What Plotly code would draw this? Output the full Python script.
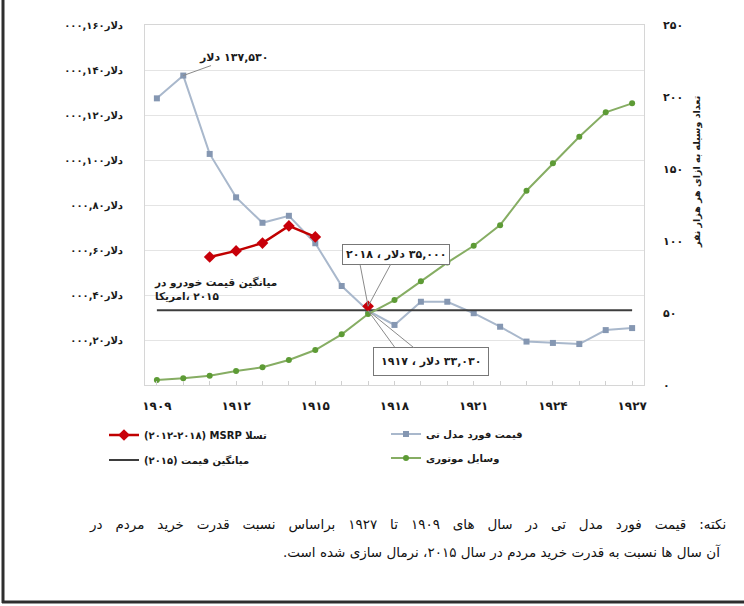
import plotly.graph_objects as go

# ---------------- data ----------------
years = list(range(1909, 1928))
ford_price = [127400, 137530, 102700, 83400, 72100, 75200, 63000, 44000, 33030, 26700,
              37000, 37000, 31900, 25900, 19300, 18700, 18200, 24400, 25300]
tesla_years = [1911, 1912, 1913, 1914, 1915, 1916, 1917]
tesla_price = [56900, 59600, 63100, 70700, 65800, None, 35000]
avg_years = [1909, 1927]
avg_price_2015 = [33200, 33200]
vehicles_per_1000 = [3.5, 4.7, 6.5, 9.7, 12.3, 17.4, 24.3, 35.2, 49.3, 59.0,
                     72.0, 85.0, 96.7, 111.0, 134.9, 154.0, 172.4, 189.4, 195.6]

LRM = "\u200e"
RLM = "\u200f"

x_tick_years = years
x_tick_text = ["۱۹۰۹", "", "", "۱۹۱۲", "", "", "۱۹۱۵", "", "", "۱۹۱۸", "", "",
               "۱۹۲۱", "", "", "۱۹۲۴", "", "", "۱۹۲۷"]
left_tick_vals = [20000, 40000, 60000, 80000, 100000, 120000, 140000, 160000]
left_tick_text = [LRM + t for t in ["۰۰۰,۲۰دلار", "۰۰۰,۴۰دلار", "۰۰۰,۶۰دلار", "۰۰۰,۸۰دلار",
                                    "۰۰۰,۱۰۰دلار", "۰۰۰,۱۲۰دلار", "۰۰۰,۱۴۰دلار", "۰۰۰,۱۶۰دلار"]]
right_tick_vals = [0, 50, 100, 150, 200, 250]
right_tick_text = ["۰", "۵۰", "۱۰۰", "۱۵۰", "۲۰۰", "۲۵۰"]

note_line1 = "نکته: قیمت فورد مدل تی در سال های ۱۹۰۹ تا ۱۹۲۷ براساس نسبت قدرت خرید مردم در"
note_line2 = "آن سال ها نسبت به قدرت خرید مردم در سال ۲۰۱۵، نرمال سازی شده است."

# ---------------- layout geometry ----------------
W, H = 744, 606
ML, MR, MT, MB = 145, 100, 25, 221
PW, PH = W - ML - MR, H - MT - MB


def px_x(px):
    return (px - ML) / PW


def px_y(py):
    return (H - MB - py) / PH


FONT = "DejaVu Sans"
BOLD = dict(family=FONT, weight="bold", color="#1a1a1a")

fig = go.Figure()

fig.add_trace(go.Scatter(
    x=years, y=ford_price, mode="lines+markers", name="قیمت فورد مدل تی",
    line=dict(color="#a9b8cc", width=2),
    marker=dict(symbol="square", size=6, color="#8597b2"),
    legend="legend2"))

fig.add_trace(go.Scatter(
    x=avg_years, y=avg_price_2015, mode="lines", name=LRM + "(۲۰۱۵) میانگین قیمت",
    line=dict(color="#3d3d3d", width=2), legend="legend3"))

fig.add_trace(go.Scatter(
    x=years, y=vehicles_per_1000, mode="lines+markers", name="وسایل موتوری",
    line=dict(color="#86ad63", width=2),
    marker=dict(symbol="circle", size=6, color="#5d9b35"),
    yaxis="y2", legend="legend4"))

fig.add_trace(go.Scatter(
    x=tesla_years, y=tesla_price, mode="lines+markers",
    name=LRM + "(۲۰۱۲-۲۰۱۸) MSRP تسلا",
    line=dict(color="#c00000", width=2.5),
    marker=dict(symbol="diamond", size=9, color="#c8000a"),
    connectgaps=False, legend="legend"))

leg_common = dict(font=dict(size=10, **BOLD), bgcolor="rgba(0,0,0,0)",
                  xanchor="left", yanchor="middle")

# justified first line of the note (extra non-breaking spaces between words)
note_line1_just = note_line1.replace(" ", " \u00a0\u00a0")

annotations = [
    dict(x=1910, y=137530, xref="x", yref="y", text=LRM + "دلار" + LRM + " ۱۳۷,۵۳۰",
         showarrow=True, arrowhead=0, arrowwidth=1, arrowcolor="#8a8a8a",
         ax=50, ay=-18, font=dict(size=11, **BOLD)),
    dict(x=1917, y=35000, xref="x", yref="y",
         text=LRM + "۲۰۱۸ ، دلار" + LRM + " ۳۵,۰۰۰",
         showarrow=True, arrowhead=0, arrowwidth=1, arrowcolor="#8a8a8a",
         ax=28, ay=-52, font=dict(size=11, **BOLD), bgcolor="white",
         bordercolor="#777777", borderwidth=1, borderpad=3),
    dict(x=1917, y=33030, xref="x", yref="y",
         text=LRM + "۱۹۱۷ ، دلار" + LRM + " ۳۳,۰۳۰",
         showarrow=True, arrowhead=0, arrowwidth=1, arrowcolor="#8a8a8a",
         ax=63, ay=51, font=dict(size=11, **BOLD), bgcolor="white",
         bordercolor="#777777", borderwidth=1, borderpad=7),
    dict(x=px_x(152), y=px_y(289), xref="paper", yref="paper",
         text="میانگین قیمت خودرو در<br>" + LRM + "امریکا،" + LRM + " ۲۰۱۵",
         showarrow=False, xanchor="left", yanchor="middle", align="left",
         font=dict(size=10.5, **BOLD)),
    dict(x=px_x(705), y=px_y(172), xref="paper", yref="paper",
         text="تعداد وسیله به ازای هر هزار نفر", showarrow=False, textangle=-90,
         font=dict(size=9.5, **BOLD)),
    dict(x=px_x(728), y=px_y(524), xref="paper", yref="paper",
         text=note_line1_just,
         showarrow=False, xanchor="right", yanchor="middle",
         font=dict(family=FONT, size=13.5, color="#111111")),
    dict(x=px_x(723), y=px_y(552), xref="paper", yref="paper",
         text=note_line2 + RLM,
         showarrow=False, xanchor="right", yanchor="middle",
         font=dict(family=FONT, size=13.5, color="#111111")),
]

shapes = [
    # extra leader lines
    dict(type="line", xref="x", yref="y", x0=1917, y0=35000, x1=1916.7, y1=53300,
         line=dict(color="#8a8a8a", width=1)),
    dict(type="line", xref="x", yref="y", x0=1917, y0=33030, x1=1918.0, y1=16900,
         line=dict(color="#8a8a8a", width=1)),
    # outer frame (left and bottom)
    dict(type="line", xref="paper", yref="paper", x0=px_x(3), x1=px_x(3),
         y0=px_y(603), y1=px_y(0), line=dict(color="#2e2e2e", width=3)),
    dict(type="line", xref="paper", yref="paper", x0=px_x(2), x1=px_x(744),
         y0=px_y(602), y1=px_y(602), line=dict(color="#2e2e2e", width=3)),
]

fig.update_layout(
    width=W, height=H, autosize=False,
    margin=dict(l=ML, r=MR, t=MT, b=MB),
    paper_bgcolor="white", plot_bgcolor="white",
    font=dict(family=FONT),
    showlegend=True,
    xaxis=dict(range=[1908.55, 1927.45], tickvals=x_tick_years, ticktext=x_tick_text,
               ticks="inside", ticklen=4, tickcolor="#d0d0d0", showgrid=False,
               showline=True, linecolor="#d6d6d6", mirror=True, zeroline=False,
               tickfont=dict(size=12, **BOLD), ticklabelstandoff=10),
    yaxis=dict(range=[0, 160000], tickvals=left_tick_vals, ticktext=left_tick_text,
               showgrid=True, gridcolor="#e4e4e4", gridwidth=1, zeroline=False,
               showline=True, linecolor="#d6d6d6", mirror=True, ticks="",
               tickfont=dict(size=10, **BOLD), ticklabelstandoff=19),
    yaxis2=dict(range=[0, 250], tickvals=right_tick_vals, ticktext=right_tick_text,
                overlaying="y", side="right", showgrid=False, zeroline=False,
                showline=False, ticks="", tickfont=dict(size=11, **BOLD),
                ticklabelstandoff=18),
    legend=dict(x=px_x(104), y=px_y(435), **leg_common),
    legend3=dict(x=px_x(104), y=px_y(460), **leg_common),
    legend2=dict(x=px_x(386), y=px_y(434), **leg_common),
    legend4=dict(x=px_x(386), y=px_y(458), **leg_common),
    annotations=annotations,
    shapes=shapes,
)

fig.write_html("out.html", config={"displayModeBar": False},
               post_script="document.body.style.margin='0px';"
                           "document.body.style.overflow='hidden';")
